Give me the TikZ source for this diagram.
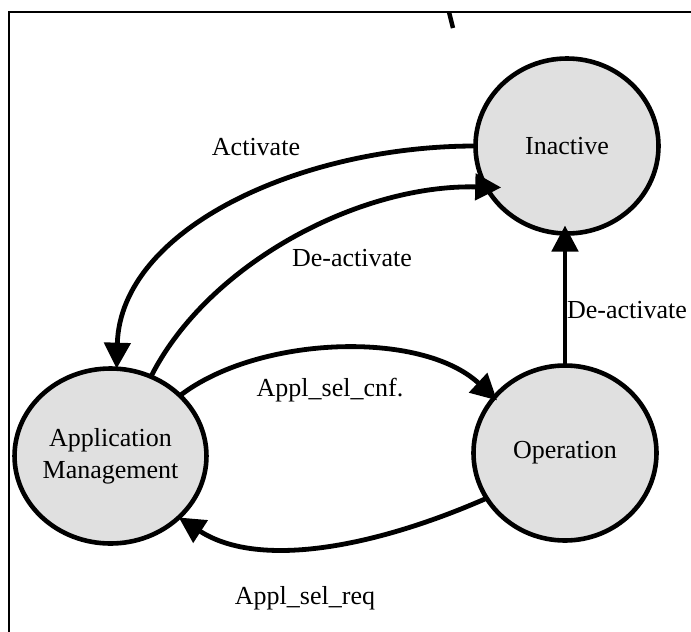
\documentclass[tikz,border=0pt]{standalone}
\usepackage{fontspec}
\setmainfont{Liberation Serif}
\usetikzlibrary{shapes.geometric,arrows.meta}
\definecolor{stategray}{RGB}{224,224,224}

\begin{document}
\begin{tikzpicture}[x=0.5pt,y=-0.5pt,
    state/.style={ellipse,draw,fill=stategray,line width=2.3pt,
        minimum width=91.5pt,minimum height=87.5pt,inner sep=0pt,outer sep=0pt,
        align=center,font=\fontsize{13}{16}\selectfont},
    trans/.style={line width=2.4pt,-{Triangle[length=13pt,width=13pt]}},
    lbl/.style={font=\fontsize{13}{16}\selectfont}]
    \useasboundingbox (0,0) rectangle (691,632);

    % frame and stray tick
    \draw[line width=1pt] (9,632) -- (9,12) -- (691,12);
    \draw[line width=2.2pt] (449,12) -- (453,28);

    \node[state] (inact) at (567,146) {Inactive};
    \node[state] (oper)  at (565,453) {Operation};
    \node[state] (appl)  at (110.5,456) {Application\\Management};

    % transitions
    \draw[trans] (inact.west) .. controls +(-175,0) and +(4,-140) .. (appl.86);
    \draw[trans,shorten >=-7.5pt] (appl.63) .. controls +(57,-113) and +(-127,-3) .. (inact.207);
    \draw[trans,shorten >=-2pt] (appl.41) .. controls +(78,-60) and +(-73,-68) .. (oper.142);
    \draw[trans] (oper.210) .. controls +(-107,47) and +(82,53) .. (appl.318);
    \draw[trans,shorten >=-4pt] (oper.north) -- (oper.north |- inact.south);

    \node[lbl] (lact)   at (256,147) {Activate};
    \node[lbl] (ldeact) at (352,258) {De-activate};
    \node[lbl] (lcnf)   at (330,390) {Appl\_sel\_cnf.};
    \node[lbl] (lreq)   at (305,598) {Appl\_sel\_req};
    \node[lbl] (ldeop)  at (627,310) {De-activate};
\end{tikzpicture}
\end{document}
